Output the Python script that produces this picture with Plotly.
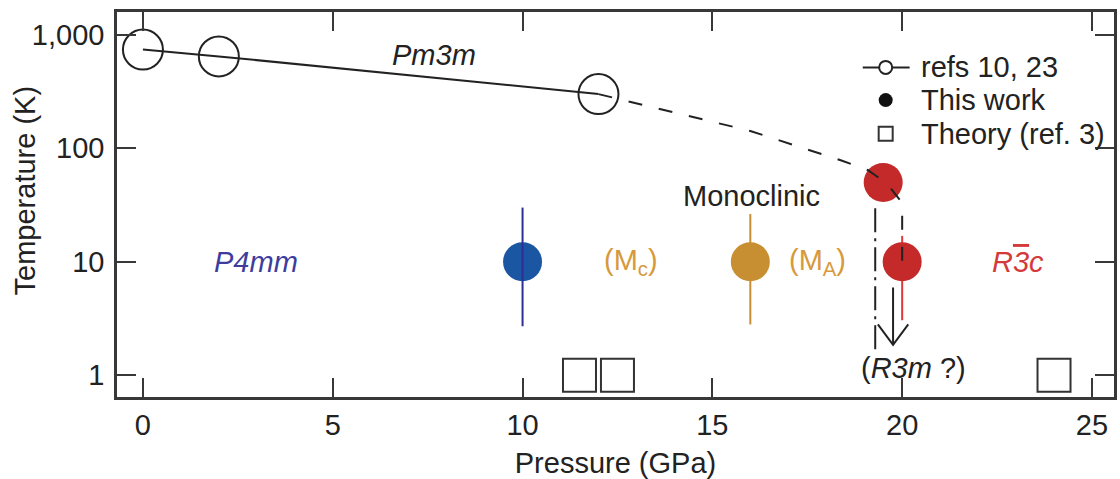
import math
import plotly.graph_objects as go

FONT = "Liberation Sans, Arial, Helvetica, sans-serif"
INK = "#222222"
FRAME = "#383838"
FS = 29

# Pm3m boundary from refs 10, 23
ref_p = [0, 2, 12]
ref_t = [740, 645, 300]

# Extrapolated boundary continuing towards the R3c phase
ext_p = [12, 16, 18.4, 19.1, 19.6, 20, 20]
ext_t = [300, 142, 78, 64, 49, 33, 10]

# This work: points with their temperature ranges
work_p = [10, 16, 19.5, 20]
work_t = [10, 10, 50, 10]
work_lo = [2.7, 2.8, None, 3.05]
work_hi = [30, 26.3, None, 16.9]
work_colors = ["#1b56a3", "#c88f32", "#c42a2a", "#c42a2a"]
bar_colors = ["#2e2e96", "#c88f32", None, "#e03a3a"]
bar_on_top = [True, False, False, False]

# Theory (ref. 3)
theory_p = [11.5, 12.5, 24]
theory_t = [1, 1, 1]

# Monoclinic / rhombohedral boundary (dash-dot)
bound_p = [19.29, 19.29]
bound_t = [29.6, 1.66]

# Arrow towards the possible R3m phase
arrow_p = [19.76, 19.76]
arrow_t = [5.93, 1.85]

# Phase labels: pressure, temperature, text, colour
label_p = [7.67, 16.04, 2.97, 12.85, 17.78, 23.06, 20.3]
label_t = [670, 37.8, 10, 10, 10, 10, 1.15]
label_text = [
    "<i>Pm3m</i>",
    "Monoclinic",
    "<i>P4mm</i>",
    "(M<sub>c</sub>)",
    "(M<sub>A</sub>)",
    "<i>R<span style=\"text-decoration:overline\">3</span>c</i>",
    "(<i>R3m</i> ?)",
]
label_colors = [INK, INK, "#3d3d9e", "#d69a3c", "#d69a3c", "#d43a3a", INK]

# Legend entries
leg_text = ["refs 10, 23", "This work", "Theory (ref. 3)"]

# Tick labels and axis titles
x_ticks = [0, 5, 10, 15, 20, 25]
y_ticks = [1, 10, 100, 1000]
y_ticktext = ["1", "10", "100", "1,000"]
x_title = "Pressure (GPa)"
y_title = "Temperature (K)"

fig = go.Figure()

# Solid boundary line
fig.add_trace(go.Scatter(x=ref_p, y=ref_t, mode="lines",
                         line=dict(color=INK, width=2), hoverinfo="skip"))

# This work: temperature ranges and filled circles
for p, t, lo, hi, c, bc, top in zip(work_p, work_t, work_lo, work_hi,
                                    work_colors, bar_colors, bar_on_top):
    bar = None
    if lo is not None:
        bar = go.Scatter(x=[p, p], y=[lo, hi], mode="lines",
                         line=dict(color=bc, width=2), hoverinfo="skip")
    if bar is not None and not top:
        fig.add_trace(bar)
    fig.add_trace(go.Scatter(x=[p], y=[t], mode="markers",
                             marker=dict(symbol="circle", size=39, color=c,
                                         line=dict(width=0))))
    if bar is not None and top:
        fig.add_trace(bar)

# Dashed extrapolation, open circles, theory squares, dash-dot boundary
fig.add_trace(go.Scatter(x=ext_p, y=ext_t, mode="lines",
                         line=dict(color=INK, width=2, dash="14px,17px"),
                         hoverinfo="skip"))
fig.add_trace(go.Scatter(x=ref_p, y=ref_t, mode="markers",
                         marker=dict(symbol="circle-open", size=40, color=INK,
                                     line=dict(width=2))))
fig.add_trace(go.Scatter(x=theory_p, y=theory_t, mode="markers",
                         marker=dict(symbol="square-open", size=33, color="#333333",
                                     line=dict(width=2))))
fig.add_trace(go.Scatter(x=bound_p, y=bound_t, mode="lines",
                         line=dict(color=INK, width=2, dash="24px,6px,3px,6px"),
                         hoverinfo="skip"))

# Arrow shaft and open head
tip_p, tip_t = arrow_p[-1], arrow_t[-1]
head_w, head_h = 0.4, 10 ** 0.18
fig.add_trace(go.Scatter(x=arrow_p, y=arrow_t, mode="lines",
                         line=dict(color=INK, width=2), hoverinfo="skip"))
fig.add_trace(go.Scatter(x=[tip_p - head_w, tip_p, tip_p + head_w],
                         y=[tip_t * head_h, tip_t, tip_t * head_h], mode="lines",
                         line=dict(color=INK, width=2), hoverinfo="skip"))

# Phase labels (annotation y on a log axis is given in log10 units)
for x, y, txt, col in zip(label_p, label_t, label_text, label_colors):
    fig.add_annotation(x=x, y=math.log10(y), xref="x", yref="y", text=txt,
                       showarrow=False, xanchor="center", yanchor="middle",
                       font=dict(family=FONT, size=FS, color=col))


# Pixel -> paper conversion for the 1120x479 canvas (plot area 117..1117, 12..401)
def px_x(px):
    return (px - 117) / 1000.0


def px_y(py):
    return (401 - py) / 389.0


# Legend block in the upper right corner of the plot area
leg_rows = [68, 101, 135]
sx = px_x(888)
fig.add_shape(type="line", xref="paper", yref="paper",
              x0=px_x(865), x1=px_x(912), y0=px_y(leg_rows[0]), y1=px_y(leg_rows[0]),
              line=dict(color=INK, width=2))
fig.add_shape(type="circle", xref="paper", yref="paper", xsizemode="pixel",
              ysizemode="pixel", xanchor=sx, yanchor=px_y(leg_rows[0]),
              x0=-6.5, x1=6.5, y0=-6.5, y1=6.5, fillcolor="white",
              line=dict(color=INK, width=2))
fig.add_shape(type="circle", xref="paper", yref="paper", xsizemode="pixel",
              ysizemode="pixel", xanchor=sx, yanchor=px_y(leg_rows[1]),
              x0=-7, x1=7, y0=-7, y1=7, fillcolor="#111111",
              line=dict(color="#111111", width=0))
fig.add_shape(type="rect", xref="paper", yref="paper", xsizemode="pixel",
              ysizemode="pixel", xanchor=sx, yanchor=px_y(leg_rows[2]),
              x0=-7, x1=7, y0=-7, y1=7, line=dict(color="#333333", width=2))
for row, txt in zip(leg_rows, leg_text):
    fig.add_annotation(x=px_x(921), y=px_y(row), xref="paper", yref="paper",
                       text=txt, showarrow=False, xanchor="left", yanchor="middle",
                       font=dict(family=FONT, size=FS, color=INK))

# Vertical axis title, set a little closer to the tick labels than the
# automatic title placement allows
fig.add_annotation(x=px_x(25), y=px_y(192), xref="paper", yref="paper",
                   text=y_title, textangle=-90, showarrow=False,
                   xanchor="center", yanchor="middle",
                   font=dict(family=FONT, size=FS, color=INK))

axis_common = dict(showline=True, linecolor=FRAME, linewidth=2.5, mirror="ticks",
                   ticks="inside", ticklen=19, tickwidth=2, tickcolor=FRAME,
                   showgrid=False, zeroline=False,
                   tickfont=dict(family=FONT, size=FS, color=INK))

fig.update_xaxes(range=[-0.683, 25.58], tickvals=x_ticks,
                 title=dict(text=x_title, font=dict(family=FONT, size=FS, color=INK)),
                 **axis_common)
fig.update_yaxes(type="log", range=[-0.192, 3.2006], tickvals=y_ticks,
                 ticktext=y_ticktext, ticklabelstandoff=4,
                 **axis_common)

fig.update_layout(width=1120, height=479, showlegend=False,
                  margin=dict(l=117, r=3, t=12, b=78),
                  paper_bgcolor="white", plot_bgcolor="white",
                  font=dict(family=FONT, size=FS, color=INK))

fig.write_html("out.html")
